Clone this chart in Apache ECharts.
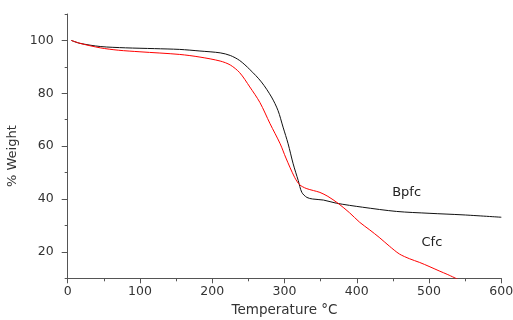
<!DOCTYPE html>
<html>
<head>
<meta charset="utf-8">
<script src="https://cdn.jsdelivr.net/npm/echarts@6/dist/echarts.min.js"></script>
<style>html,body{margin:0;padding:0;background:#fff}#c{width:513px;height:320px}</style>
</head>
<body>
<div id="c"></div>
<script>
// Bpfc: temperature (°C) and % weight
const bpfcTemp   = [5, 17, 45, 80, 120, 155, 183, 211, 225, 238, 252, 268, 282, 291, 298, 305, 312, 319, 324, 331, 339, 354, 372, 408, 455, 500, 547, 600];
const bpfcWeight = [100, 98.9, 97.7, 97.2, 96.9, 96.6, 96.0, 95.3, 94.3, 92.4, 89.0, 84.3, 78.6, 73.5, 67.2, 60.9, 53.3, 47.0, 42.5, 40.6, 40.0, 39.6, 38.4, 36.9, 35.3, 34.6, 34.0, 33.1];
// Cfc: temperature (°C) and % weight
const cfcTemp   = [5, 17, 45, 70, 100, 155, 183, 211, 225, 238, 252, 266, 280, 294, 302, 314, 321, 330, 340, 349, 360, 374, 390, 404, 418, 431, 445, 459, 473, 487, 500, 514, 526, 540];
const cfcWeight = [100, 98.9, 97.2, 96.3, 95.7, 94.7, 93.7, 92.2, 90.7, 87.8, 82.4, 76.5, 68.5, 60.9, 55.5, 48.2, 45.4, 44.0, 43.2, 42.5, 41.0, 38.4, 34.8, 31.2, 28.3, 25.5, 22.2, 19.2, 17.4, 16.0, 14.5, 12.8, 11.4, 9.6];
// Axis ticks
const xTicks = [0, 100, 200, 300, 400, 500, 600];
const yTicks = [20, 40, 60, 80, 100];
const seriesNames = ['Bpfc', 'Cfc'];
const labelPos = [[469, 42.4], [504, 23.5]];

const zip = (a, b) => a.map((v, i) => [v, b[i]]);
const font = 'DejaVu Sans';
const chart = echarts.init(document.getElementById('c'), null, {renderer: 'canvas'});
chart.setOption({
  animation: false,
  backgroundColor: '#fff',
  grid: {left: 67.7, right: 11.7, top: 14, bottom: 41.7, containLabel: false, outerBoundsMode: 'none'},
  xAxis: {
    type: 'value', min: xTicks[0], max: xTicks[xTicks.length - 1], interval: 100,
    name: 'Temperature °C', nameLocation: 'middle', nameGap: 16,
    nameTextStyle: {fontFamily: font, fontSize: 13.5, color: '#333'},
    axisLine: {show: true, onZero: false, lineStyle: {color: '#555', width: 1}},
    axisTick: {show: true, length: 5, lineStyle: {color: '#555'}},
    minorTick: {show: true, splitNumber: 2, length: 3, lineStyle: {color: '#555'}},
    axisLabel: {fontFamily: font, fontSize: 12.5, color: '#333', margin: 7},
    splitLine: {show: false}
  },
  yAxis: [{
    type: 'value', min: 10, max: 110, interval: 10,
    name: '% Weight', nameLocation: 'middle', nameGap: 42,
    nameTextStyle: {fontFamily: font, fontSize: 13, color: '#333', padding: [0, 20, 0, 0]},
    axisLine: {show: true, onZero: false, lineStyle: {color: '#555', width: 1}},
    axisTick: {show: true, length: 6, customValues: yTicks, lineStyle: {color: '#555'}},
    axisLabel: {fontFamily: font, fontSize: 12.5, color: '#333', margin: 14, customValues: yTicks},
    splitLine: {show: false}
  }, {
    type: 'value', min: 10, max: 110, interval: 10, position: 'left',
    axisLine: {show: false},
    axisTick: {show: true, length: 3, lineStyle: {color: '#555'}},
    axisLabel: {show: false},
    splitLine: {show: false}
  }],
  series: [{
    name: seriesNames[0], type: 'line', data: zip(bpfcTemp, bpfcWeight), yAxisIndex: 0,
    showSymbol: false, smooth: 0.3, lineStyle: {color: '#111', width: 1}, itemStyle: {color: '#111'},
    markPoint: {symbolSize: 0, silent: true, data: [{coord: labelPos[0], label: {show: true, formatter: seriesNames[0], fontFamily: font, fontSize: 13, color: '#222', position: 'inside'}}]}
  }, {
    name: seriesNames[1], type: 'line', data: zip(cfcTemp, cfcWeight), yAxisIndex: 0,
    showSymbol: false, smooth: 0.3, lineStyle: {color: '#ff0000', width: 1}, itemStyle: {color: '#ff0000'},
    markPoint: {symbolSize: 0, silent: true, data: [{coord: labelPos[1], label: {show: true, formatter: seriesNames[1], fontFamily: font, fontSize: 13, color: '#222', position: 'inside'}}]}
  }]
});
</script>
</body>
</html>
